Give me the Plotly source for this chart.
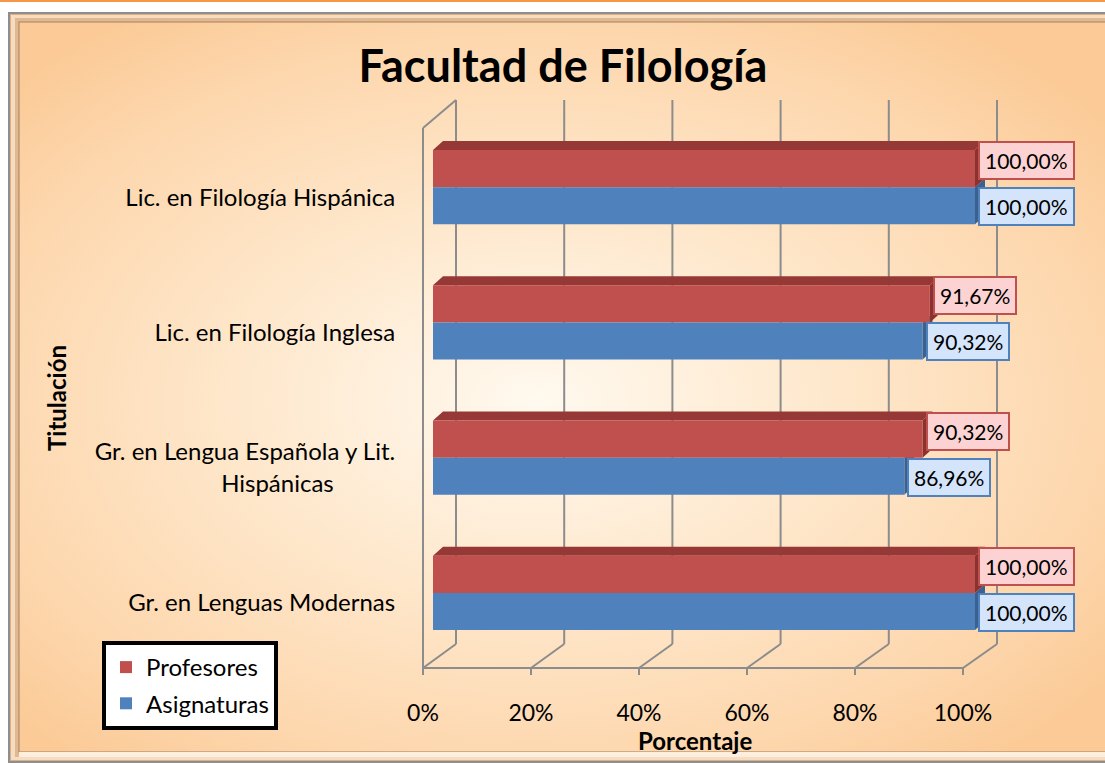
import base64
import plotly.graph_objects as go

# ---------------- data ----------------
categories = ["Lic. en Filología Hispánica",
              "Lic. en Filología Inglesa",
              "Gr. en Lengua Española y Lit.<br>Hispánicas",
              "Gr. en Lenguas Modernas"]
profesores = [100.00, 91.67, 90.32, 100.00]
asignaturas = [100.00, 90.32, 86.96, 100.00]
series_names = ["Profesores", "Asignaturas"]
tick_vals = [0, 20, 40, 60, 80, 100]
tick_text = ["0%", "20%", "40%", "60%", "80%", "100%"]
title_text = "Facultad de Filología"
x_title = "Porcentaje"
y_title = "Titulación"

# ---------------- style / geometry ----------------
W, H = 1105, 763
FONT = "Lato"
RED, BLUE = "#c0504d", "#4f81bd"
RED_TOP, RED_SIDE, BLUE_SIDE = "#963836", "#8a3230", "#3a6190"
GRID = "#8c8c8c"

def fx(p):  # pixel -> paper x
    return p / W

def fy(p):  # pixel -> paper y
    return 1 - p / H

# bar axis: 0 -> 433px, 100 -> 975px
BX0, BSCALE = 433, 5.42
XMAX = 106
# category axis pixels
Y_TOP, Y_BOT = 119.5, 660.5
CAT_PX = (Y_BOT - Y_TOP) / len(categories)
BARGAP = 0.452
HALF = (1 - BARGAP) / 2
# 3D box
FRONT0, FRONT_SC = 423, 5.40
BACK0, BACK_SC = 456, 5.41
BACK_TOP, BACK_BOT, FRONT_BOT, WALL_TOP = 100, 644, 668, 128

# ---------------- background (gradient panel) ----------------
svg = f'''<svg xmlns="http://www.w3.org/2000/svg" width="{W}" height="{H}" viewBox="0 0 {W} {H}">
<defs>
<radialGradient id="g" cx="0.46" cy="0.52" r="0.64">
<stop offset="0" stop-color="#fff9ef"/>
<stop offset="0.45" stop-color="#fee6c9"/>
<stop offset="0.8" stop-color="#fdd6ac"/>
<stop offset="1" stop-color="#fbca96"/>
</radialGradient>
</defs>
<rect x="0" y="0" width="{W}" height="{H}" fill="#ffffff"/>
<rect x="0" y="0" width="{W}" height="2" fill="#f79646"/>
<rect x="9" y="13" width="{W + 20}" height="{H - 14}" fill="#d9b08a" stroke="#8e8e8e" stroke-width="2"/>
<rect x="11" y="15" width="{W + 20}" height="{H - 18}" fill="#f6dcc0"/>
<rect x="15" y="18" width="{W + 20}" height="{H - 24}" fill="#e2b98f"/>
<rect x="19" y="22" width="{W + 20}" height="{752 - 22}" fill="url(#g)" stroke="#b08e70" stroke-width="1.2"/>
<rect x="19" y="752" width="{W + 20}" height="5" fill="#fdeedd"/>
</svg>'''
bg_src = "data:image/svg+xml;base64," + base64.b64encode(svg.encode("utf-8")).decode()

# ---------------- traces ----------------
ypos = list(range(len(categories)))
fig = go.Figure()
fig.add_trace(go.Bar(y=ypos, x=profesores, orientation="h", name=series_names[0],
                     marker=dict(color=RED, line=dict(width=0)), legendgroup="a",
                     hoverinfo="skip"))
fig.add_trace(go.Bar(y=ypos, x=asignaturas, orientation="h", name=series_names[1],
                     marker=dict(color=BLUE, line=dict(width=0)), legendgroup="b",
                     hoverinfo="skip"))
# carrier for the front tick-label axis
fig.add_trace(go.Scatter(x=tick_vals, y=[ypos[0]] * len(tick_vals), xaxis="x2", yaxis="y",
                         mode="markers", marker=dict(opacity=0), showlegend=False,
                         hoverinfo="skip"))

# ---------------- 3D box lines ----------------
shapes = []
def line(x0, y0, x1, y1):
    shapes.append(dict(type="line", xref="paper", yref="paper", x0=fx(x0), y0=fy(y0),
                       x1=fx(x1), y1=fy(y1), line=dict(color=GRID, width=2), layer="below"))

for t in tick_vals:
    xb = BACK0 + t * BACK_SC
    xf = FRONT0 + t * FRONT_SC
    line(xb, BACK_TOP, xb, BACK_BOT)
    line(xb, BACK_BOT, xf, FRONT_BOT)
    line(xf, FRONT_BOT, xf, FRONT_BOT + 7)
line(FRONT0, WALL_TOP, FRONT0, FRONT_BOT)
line(FRONT0, WALL_TOP, BACK0, BACK_TOP)
line(FRONT0, FRONT_BOT, FRONT0 + tick_vals[-1] * FRONT_SC, FRONT_BOT)

# ---------------- 3D bar faces (derived from data) ----------------
dxu = 10 / BSCALE
dyu = 9 / CAT_PX
for i, (vr, vb) in enumerate(zip(profesores, asignaturas)):
    shapes.append(dict(type="path", xref="x", yref="y", layer="below", line=dict(width=0),
                       fillcolor=BLUE_SIDE,
                       path=f"M {vb},{i} L {vb+dxu},{i-dyu} L {vb+dxu},{i+HALF-dyu} L {vb},{i+HALF} Z"))
for i, (vr, vb) in enumerate(zip(profesores, asignaturas)):
    top = i - HALF
    shapes.append(dict(type="path", xref="x", yref="y", layer="below", line=dict(width=0),
                       fillcolor=RED_TOP,
                       path=f"M 0,{top} L {vr},{top} L {vr+dxu},{top-dyu} L {dxu},{top-dyu} Z"))
    shapes.append(dict(type="path", xref="x", yref="y", layer="below", line=dict(width=0),
                       fillcolor=RED_SIDE,
                       path=f"M {vr},{top} L {vr+dxu},{top-dyu} L {vr+dxu},{i-dyu} L {vr},{i} Z"))

# ---------------- data labels ----------------
def fmt(v):
    return f"{v:.2f}".replace(".", ",") + "%"

annotations = []
for i, (vr, vb) in enumerate(zip(profesores, asignaturas)):
    annotations.append(dict(x=vr, y=i - HALF / 2, xref="x", yref="y", text=fmt(vr),
                            showarrow=False, xanchor="left", yanchor="middle", xshift=3, yshift=8,
                            font=dict(family=FONT, size=21, color="black"),
                            bgcolor="#fcd3d2", bordercolor=RED, borderwidth=2, borderpad=5))
    annotations.append(dict(x=vb, y=i + HALF / 2, xref="x", yref="y", text=fmt(vb),
                            showarrow=False, xanchor="left", yanchor="middle", xshift=3, yshift=-1,
                            font=dict(family=FONT, size=21, color="black"),
                            bgcolor="#d4e4fb", bordercolor=BLUE, borderwidth=2, borderpad=5))
annotations.append(dict(x=fx(57), y=fy(398), xref="paper", yref="paper",
                        xanchor="center", yanchor="middle",
                        text=f"<b>{y_title}</b>", textangle=-90, showarrow=False,
                        font=dict(family=FONT, size=24, color="black")))
annotations.append(dict(x=fx(695), y=fy(740), xref="paper", yref="paper",
                        xanchor="center", yanchor="middle",
                        text=f"<b>{x_title}</b>", showarrow=False,
                        font=dict(family=FONT, size=24, color="black")))

# category tick labels (second line centred under the first)
ticktext = []
for c in categories:
    if "<br>" in c:
        a, b = c.split("<br>")
        ticktext.append(a + "<br>" + b + "\u00a0" * 10)
    else:
        ticktext.append(c)

fig.update_layout(
    width=W, height=H,
    margin=dict(l=0, r=0, t=0, b=0),
    paper_bgcolor="white", plot_bgcolor="rgba(0,0,0,0)",
    barmode="group", bargap=BARGAP, bargroupgap=0,
    font=dict(family=FONT, size=20, color="black"),
    title=dict(text=f"<b>{title_text}</b>", x=fx(563), y=fy(66), xref="paper", yref="container",
               xanchor="center", yanchor="middle",
               font=dict(family=FONT, size=45, color="black")),
    xaxis=dict(domain=[fx(BX0), fx(BX0 + XMAX * BSCALE)], range=[0, XMAX],
               showgrid=False, zeroline=False, showline=False, showticklabels=False,
               ticks="", fixedrange=True, automargin=False),
    xaxis2=dict(domain=[fx(FRONT0), fx(FRONT0 + 100 * FRONT_SC)], range=[0, 100],
                anchor="free", position=fy(FRONT_BOT), side="bottom",
                tickvals=tick_vals, ticktext=tick_text, showgrid=False, zeroline=False,
                showline=False, ticks="outside", ticklen=24, tickcolor="rgba(0,0,0,0)",
                tickfont=dict(family=FONT, size=23, color="black"), automargin=False),
    yaxis=dict(domain=[fy(Y_BOT), fy(Y_TOP)], range=[len(categories) - 0.5, -0.5],
               tickvals=ypos, ticktext=ticktext, showgrid=False, zeroline=False,
               showline=False, ticks="outside", ticklen=32, tickcolor="rgba(0,0,0,0)",
               ticklabelshift=-10,
               tickfont=dict(family=FONT, size=24, color="black"), automargin=False,
               anchor="x"),
    legend=dict(x=fx(102), y=fy(641), xanchor="left", yanchor="top",
                bgcolor="white", bordercolor="black", borderwidth=4,
                font=dict(family=FONT, size=24, color="black"),
                traceorder="grouped", tracegroupgap=2),
    images=[dict(source=bg_src, xref="paper", yref="paper", x=0, y=1, sizex=1, sizey=1,
                 xanchor="left", yanchor="top", sizing="stretch", layer="below")],
    shapes=shapes,
    annotations=annotations,
    showlegend=True,
)

fig.write_html("out.html", config={"displayModeBar": False},
               post_script="document.body.style.margin='0';document.body.style.overflow='hidden';")
